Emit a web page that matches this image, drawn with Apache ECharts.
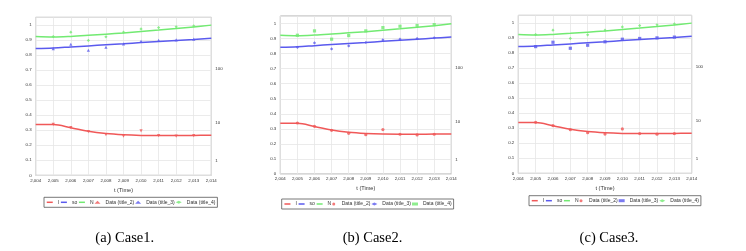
<!DOCTYPE html>
<html><head><meta charset="utf-8">
<script src="https://cdn.jsdelivr.net/npm/echarts@6/dist/echarts.min.js"></script>
<style>html,body{margin:0;padding:0;background:#fff}#c{width:746px;height:251px}</style>
</head><body><div id="c"></div>
<script>
// ---- data ----
const years = [2004, 2005, 2006, 2007, 2008, 2009, 2010, 2011, 2012, 2013, 2014];
const lineI  = [0.337, 0.337, 0.316, 0.292, 0.277, 0.269, 0.265, 0.264, 0.264, 0.265, 0.266];
const lineSo = [0.842, 0.846, 0.853, 0.860, 0.867, 0.874, 0.882, 0.889, 0.896, 0.903, 0.911];
const lineN  = [0.922, 0.919, 0.923, 0.930, 0.938, 0.946, 0.956, 0.965, 0.975, 0.986, 0.998];
const dataYears  = [2005, 2006, 2007, 2008, 2009, 2010, 2011, 2012, 2013];
const dataTitle2 = [0.339, 0.317, 0.290, 0.270, 0.261, 0.295, 0.264, 0.260, 0.264];
const dataTitle3 = [0.842, 0.871, 0.831, 0.851, 0.874, 0.891, 0.896, 0.900, 0.905];
const dataTitle4 = [0.922, 0.951, 0.896, 0.920, 0.951, 0.973, 0.982, 0.987, 0.993];
const rightTickLabels = ['1', '10', '100'];
const rightTickValues = [0.097, 0.348, 0.709];
const seriesNames = ['I', 'so', 'N', 'Data (title_2)', 'Data (title_3)', 'Data (title_4)'];
const captions = ['(a) Case1.', '(b) Case2.', '(c) Case3.'];

// ---- layout / style ----
const FONT = 'Liberation Sans';
const colors = ['#f05858', '#5a5aee', '#72ea72'];
const panels = [
  {left: 35.7, width: 175.6, top: 17.3, height: 158, legLeft: 44, legTop: 197.3, cap: 124.7,
   marks: [['triangle', 180], ['triangle', 0], ['diamond', 0]]},
  {left: 280.3, width: 171, top: 16, height: 158, legLeft: 281.7, legTop: 199, cap: 372.5,
   marks: [['circle', 0], ['diamond', 0], ['rect', 0]]},
  {left: 518.3, width: 173.4, top: 15.3, height: 158, legLeft: 529, legTop: 195.7, cap: 609,
   marks: [['circle', 0], ['rect', 0], ['diamond', 0]]}
];

const grid = [], xAxis = [], yAxis = [], series = [], legend = [], graphic = [];
const labelStyle = {fontFamily: FONT, fontSize: 4.4, color: '#333'};
panels.forEach((p, i) => {
  grid.push({left: p.left, top: p.top, width: p.width, height: p.height,
    show: true, borderColor: '#9a9a9a', borderWidth: 0.8, backgroundColor: '#fff', containLabel: false});
  xAxis.push({type: 'value', gridIndex: i, min: 2004, max: 2014, interval: 1,
    name: 't (Time)', nameLocation: 'middle', nameGap: 11,
    nameTextStyle: {fontFamily: FONT, fontSize: 5.6, color: '#333'},
    axisLine: {show: false}, axisTick: {show: false},
    axisLabel: Object.assign({margin: 3, formatter: v => v.toLocaleString('en-US')}, labelStyle),
    splitLine: {show: true, lineStyle: {color: '#e6e6e6', width: 0.8}}});
  yAxis.push({type: 'value', gridIndex: i, min: 0, max: 1.05, interval: 0.1,
    axisLine: {show: false}, axisTick: {show: false},
    axisLabel: Object.assign({margin: 4, showMaxLabel: false,
      formatter: v => String(Math.round(v * 10) / 10)}, labelStyle),
    splitLine: {show: true, lineStyle: {color: '#e6e6e6', width: 0.8}}});
  yAxis.push({type: 'value', gridIndex: i, position: 'right', min: 0, max: 1.05,
    axisLine: {show: false}, axisTick: {show: false}, splitLine: {show: false},
    axisLabel: Object.assign({margin: 4, customValues: rightTickValues,
      formatter: v => {
        let k = 0, best = 1e9;
        rightTickValues.forEach((t, j) => { if (Math.abs(t - v) < best) { best = Math.abs(t - v); k = j; } });
        return rightTickLabels[k];
      }}, labelStyle)});
  const lines = [lineI, lineSo, lineN];
  lines.forEach((arr, k) => {
    series.push({type: 'line', name: seriesNames[k], xAxisIndex: i, yAxisIndex: 2 * i,
      data: years.map((y, j) => [y, arr[j]]), smooth: 0.35, symbol: 'none',
      color: colors[k], lineStyle: {color: colors[k], width: 1.5}, z: 2});
  });
  const pts = [dataTitle2, dataTitle3, dataTitle4];
  pts.forEach((arr, k) => {
    series.push({type: 'scatter', name: seriesNames[3 + k], xAxisIndex: i, yAxisIndex: 2 * i,
      data: dataYears.map((y, j) => [y, arr[j]]),
      symbol: p.marks[k][0], symbolRotate: p.marks[k][1], symbolSize: 3.2,
      color: colors[k], itemStyle: {color: colors[k]}, z: 3});
  });
  legend.push({left: p.legLeft, top: p.legTop, orient: 'horizontal',
    padding: [2.5, 2], itemGap: 1, itemWidth: 6, itemHeight: 3,
    borderColor: '#555', borderWidth: 0.8, backgroundColor: '#fff',
    textStyle: {fontFamily: FONT, fontSize: 5, color: '#333'},
    selectedMode: false,
    data: seriesNames.map((n, k) => k < 3 ?
      {name: n, itemStyle: {opacity: 0}, lineStyle: {width: 1.5, color: colors[k]}} :
      {name: n, icon: p.marks[k - 3][0], symbolRotate: p.marks[k - 3][1]})});
  graphic.push({type: 'text', x: p.cap, y: 231, style: {text: captions[i],
    fontFamily: 'Liberation Serif', fontSize: 14.5, fill: '#000', align: 'center', verticalAlign: 'top'}});
});

const chart = echarts.init(document.getElementById('c'), null, {renderer: 'canvas'});
chart.setOption({animation: false, backgroundColor: '#fff', grid, xAxis, yAxis, series, legend, graphic});
</script>
</body></html>
